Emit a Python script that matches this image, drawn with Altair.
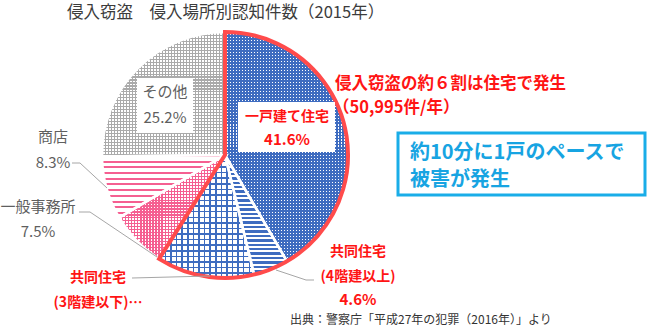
import altair as alt
import pandas as pd
import numpy as np

# ---------------- data ----------------
categories = ["一戸建て住宅", "共同住宅(4階建以上)", "共同住宅(3階建以下)", "一般事務所", "商店", "その他"]
shares = [41.6, 4.6, 12.8, 7.5, 8.3, 25.2]
groups = ["住宅", "住宅", "住宅", "非住宅", "非住宅", "非住宅"]

title_text = "侵入窃盗　侵入場所別認知件数（2015年）"
headline = ["侵入窃盗の約６割は住宅で発生", "（50,995件/年）"]
box_lines = ["約10分に1戸のペースで", "被害が発生"]
source_text = "出典：警察庁「平成27年の犯罪（2016年）」より"

df = pd.DataFrame({
    "category": categories,
    "share": shares,
    "group": groups,
    "order": list(range(len(categories))),
})
dummy = pd.DataFrame({"a": [0]})

# ---------------- geometry / style ----------------
CX, CY, R = 225, 155, 123
TAU = 2 * np.pi
FONT = "Noto Sans CJK JP"
BLUE = (62, 108, 192)
PINK = (245, 95, 145)
GRAY = (170, 170, 170)

patterns = {
    "一戸建て住宅": (BLUE, [("h", 3.0, 0.62), ("v", 3.0, 0.62)]),
    "共同住宅(4階建以上)": (BLUE, [("h", 4.5, 0.55)]),
    "共同住宅(3階建以下)": (BLUE, [("h", 5.5, 0.28), ("v", 5.5, 0.28)]),
    "一般事務所": (PINK, [("h", 3.0, 0.4), ("v", 3.0, 0.4)]),
    "商店": (PINK, [("h", 5.5, 0.35)]),
    "その他": (GRAY, [("h", 3.0, 0.4), ("v", 3.0, 0.4)]),
}


def slice_bbox(a0, a1):
    angs = np.linspace(a0, a1, 400) / 100 * TAU
    xs = np.concatenate([[0.0], R * np.sin(angs)])
    ys = np.concatenate([[0.0], -R * np.cos(angs)])
    return xs.max() - xs.min(), ys.max() - ys.min()


def stripes(rgb, length_px, period, duty, horizontal):
    r, g, b = rgb
    on = f"rgba({r},{g},{b},1)"
    off = f"rgba({r},{g},{b},0)"
    n = max(1, int(round(length_px / period)))
    stops = []
    for i in range(n):
        s = round(i / n, 6)
        m = round((i + duty) / n, 6)
        e = round((i + 1) / n, 6)
        stops += [
            {"offset": s, "color": on},
            {"offset": m, "color": on},
            {"offset": m, "color": off},
            {"offset": e, "color": off},
        ]
    return {
        "gradient": "linear",
        "stops": stops,
        "x1": 0, "y1": 0,
        "x2": 0 if horizontal else 1,
        "y2": 1 if horizontal else 0,
    }


base = alt.Chart(df).transform_window(
    end="sum(share)", sort=[alt.SortField("order")], frame=[None, 0]
).transform_calculate(start="datum.end - datum.share")

theta = alt.Theta("start:Q", scale=alt.Scale(domain=[0, 100], range=[0, TAU]))
theta2 = alt.Theta2("end:Q")
center = dict(x=alt.value(CX), y=alt.value(CY))

layers = []
cum = np.cumsum([0] + shares)
for i, cat in enumerate(categories):
    rgb, pats = patterns[cat]
    w, h = slice_bbox(cum[i], cum[i + 1])
    for direction, period, duty in pats:
        horiz = direction == "h"
        grad = stripes(rgb, h if horiz else w, period, duty, horiz)
        layers.append(
            base.transform_filter(alt.datum.category == cat)
            .mark_arc(radius=R, fill=grad, strokeWidth=0)
            .encode(theta=theta, theta2=theta2, **center)
        )

# white separators
layers.append(
    base.mark_arc(radius=R, fill="white", fillOpacity=0, stroke="white", strokeWidth=2.5)
    .encode(theta=theta, theta2=theta2, **center)
)

# red outline around residential slices
layers.append(
    base.transform_filter(alt.datum.group == "住宅")
    .transform_aggregate(start="min(start)", end="max(end)")
    .mark_arc(radius=R, fill="white", fillOpacity=0, stroke="#ff4b4b",
              strokeWidth=4, strokeJoin="miter")
    .encode(theta=theta, theta2=theta2, **center)
)


def rect(x1, y1, x2, y2, **kw):
    return alt.Chart(dummy).mark_rect(**kw).encode(
        x=alt.value(x1), x2=alt.value(x2), y=alt.value(y1), y2=alt.value(y2)
    )


def rule(x1, y1, x2, y2):
    return alt.Chart(dummy).mark_rule(color="#a6a6a6", strokeWidth=1).encode(
        x=alt.value(x1), x2=alt.value(x2), y=alt.value(y1), y2=alt.value(y2)
    )


def txt(t, x, y, size, color, bold=False, align="center"):
    return alt.Chart(dummy).mark_text(
        font=FONT, fontSize=size, fontWeight="bold" if bold else "normal",
        color=color, align=align, baseline="middle",
    ).encode(x=alt.value(x), y=alt.value(y), text=alt.value(t))


# label boxes
layers.append(rect(238, 102, 335, 152, fill="white"))
layers.append(rect(137, 78, 193, 133, fill="white"))
layers.append(rect(398, 133, 645, 195, fill="white", fillOpacity=0,
                   stroke="#1aade8", strokeWidth=3))

# leader lines
layers += [
    rule(72, 163, 80, 163), rule(80, 163, 107, 188),
    rule(79, 212, 90, 212), rule(90, 212, 157, 257),
    rule(132, 278, 210, 276),
    rule(276, 270, 306, 280), rule(306, 280, 314, 280),
]

RED = "#ff1414"
GRAYT = "#5f5f5f"
labels = [
    txt(title_text, 67, 13, 16.5, "#3c3c3c", align="left"),
    txt(headline[0], 335, 84, 16.5, RED, True, "left"),
    txt(headline[1], 333, 108, 16.5, RED, True, "left"),
    txt(box_lines[0], 410, 153, 20, "#17a4e2", True, "left"),
    txt(box_lines[1], 410, 180, 20, "#17a4e2", True, "left"),
    txt(categories[0], 287, 117, 14, RED, True),
    txt(f"{shares[0]}%", 287, 140, 15, RED, True),
    txt(categories[5], 165, 92, 15, GRAYT),
    txt(f"{shares[5]}%", 165, 118, 15, GRAYT),
    txt(categories[4], 53, 137, 15, GRAYT),
    txt(f"{shares[4]}%", 53, 163, 15, GRAYT),
    txt(categories[3], 38, 207, 15, GRAYT),
    txt(f"{shares[3]}%", 38, 232, 15, GRAYT),
    txt("共同住宅", 98, 278, 14, RED, True),
    txt("(3階建以下)…", 98, 303, 14, RED, True),
    txt("共同住宅", 358, 252, 14, RED, True),
    txt("(4階建以上)", 358, 277, 14, RED, True),
    txt(f"{shares[1]}%", 358, 300, 15, RED, True),
    txt(source_text, 290, 320, 12, "#333333", align="left"),
]
layers += labels

chart = alt.layer(*layers).properties(
    width=650, height=331, padding=0, autosize=alt.AutoSizeParams(type="none"),
    background="white",
).configure_view(stroke=None)

chart.save("out.html", embed_options={"renderer": "svg", "actions": False})
